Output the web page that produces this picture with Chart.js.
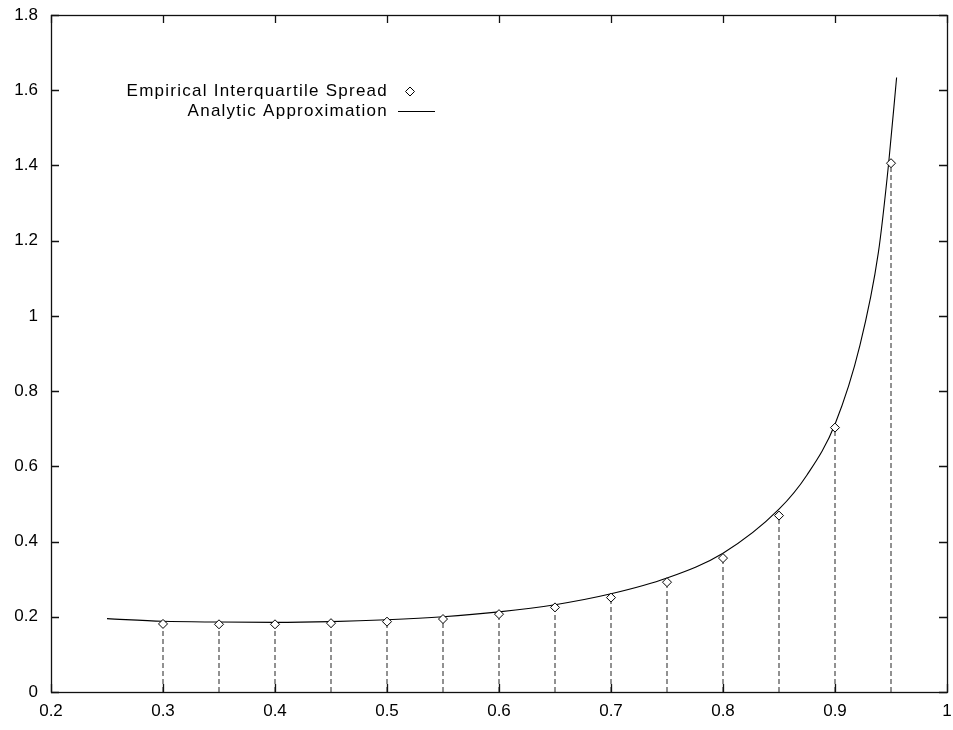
<!DOCTYPE html>
<html><head><meta charset="utf-8">
<script src="https://cdn.jsdelivr.net/npm/chart.js@4/dist/chart.umd.min.js"></script>
<style>html,body{margin:0;padding:0;background:#fff}#wrap{width:953px;height:730px;position:relative}</style>
</head><body><div id="wrap"><canvas id="c"></canvas></div>
<script>
const seriesNames = ['Empirical Interquartile Spread', 'Analytic Approximation'];
const empiricalX = [0.30, 0.35, 0.40, 0.45, 0.50, 0.55, 0.60, 0.65, 0.70, 0.75, 0.80, 0.85, 0.90, 0.95];
const empiricalY = [0.181, 0.180, 0.180, 0.183, 0.187, 0.194, 0.207, 0.225, 0.251, 0.292, 0.356, 0.469, 0.703, 1.406];
const analyticX = [0.25, 0.30, 0.35, 0.40, 0.45, 0.50, 0.55, 0.60, 0.65, 0.70, 0.75, 0.80, 0.85, 0.875, 0.90, 0.9223, 0.9387, 0.9479, 0.955];
const analyticY = [0.195, 0.188, 0.186, 0.185, 0.187, 0.192, 0.200, 0.213, 0.232, 0.261, 0.303, 0.369, 0.486, 0.577, 0.712, 0.922, 1.168, 1.406, 1.634];
const xTickValues = [0.2, 0.3, 0.4, 0.5, 0.6, 0.7, 0.8, 0.9, 1.0];
const xTickLabels = ['0.2', '0.3', '0.4', '0.5', '0.6', '0.7', '0.8', '0.9', '1'];
const yTickValues = [0, 0.2, 0.4, 0.6, 0.8, 1.0, 1.2, 1.4, 1.6, 1.8];
const yTickLabels = ['0', '0.2', '0.4', '0.6', '0.8', '1', '1.2', '1.4', '1.6', '1.8'];

const empiricalPts = empiricalX.map((x, i) => ({x: x, y: empiricalY[i]}));
const analyticPts = analyticX.map((x, i) => ({x: x, y: analyticY[i]}));
const impulsePts = [];
empiricalX.forEach((x, i) => {
  impulsePts.push({x: x, y: 0}, {x: x, y: empiricalY[i]}, {x: x, y: null});
});

Chart.defaults.font.family = "'Liberation Sans', Arial, Helvetica, sans-serif";
Chart.defaults.font.size = 17;
Chart.defaults.color = '#000';

const TICK = 8;
const noPad = s => { s.paddingTop = 0; s.paddingBottom = 0; s.paddingLeft = 0; s.paddingRight = 0; };
const framePlugin = {
  id: 'frame',
  afterDatasetsDraw(chart) {
    const {ctx, chartArea: a, scales} = chart;
    ctx.save();
    ctx.strokeStyle = '#111';
    ctx.lineWidth = 1.3;
    ctx.beginPath();
    xTickValues.forEach(v => {
      const px = Math.round(scales.x.getPixelForValue(v)) + 0.5;
      ctx.moveTo(px, a.bottom); ctx.lineTo(px, a.bottom - TICK);
      ctx.moveTo(px, a.top); ctx.lineTo(px, a.top + TICK);
    });
    yTickValues.forEach(v => {
      const py = Math.round(scales.y.getPixelForValue(v)) + 0.5;
      ctx.moveTo(a.left, py); ctx.lineTo(a.left + TICK, py);
      ctx.moveTo(a.right, py); ctx.lineTo(a.right - TICK, py);
    });
    ctx.stroke();
    ctx.strokeRect(Math.round(a.left) + 0.5, Math.round(a.top) + 0.5, Math.round(a.right - a.left), Math.round(a.bottom - a.top));
    // legend (gnuplot style: text then sample)
    ctx.fillStyle = '#000';
    ctx.font = "17px 'Liberation Sans', Arial, sans-serif";
    try { ctx.letterSpacing = '1.25px'; } catch (e) {}
    ctx.textAlign = 'right';
    ctx.textBaseline = 'middle';
    const textRight = 388;
    const rows = [91, 111];
    ctx.fillText(chart.data.datasets[0].label, textRight, rows[0]);
    ctx.fillText(chart.data.datasets[1].label, textRight, rows[1]);
    try { ctx.letterSpacing = '0px'; } catch (e) {}
    const ds0 = chart.data.datasets[0];
    ctx.fillStyle = '#fff';
    ctx.strokeStyle = ds0.pointBorderColor;
    ctx.lineWidth = 1;
    ctx.beginPath();
    ctx.moveTo(410, rows[0] - 4); ctx.lineTo(414.5, rows[0] + 0.5); ctx.lineTo(410, rows[0] + 5); ctx.lineTo(405.5, rows[0] + 0.5); ctx.closePath();
    ctx.fill(); ctx.stroke();
    ctx.strokeStyle = chart.data.datasets[1].borderColor;
    ctx.beginPath();
    ctx.moveTo(398, rows[1] + 0.5); ctx.lineTo(435, rows[1] + 0.5);
    ctx.stroke();
    ctx.restore();
  }
};

new Chart(document.getElementById('c'), {
  type: 'line',
  data: {
    datasets: [
      {
        label: seriesNames[0],
        data: empiricalPts,
        showLine: false,
        pointStyle: 'rectRot',
        pointRadius: 4.5,
        pointHoverRadius: 4.5,
        pointBackgroundColor: '#fff',
        pointBorderColor: '#000',
        pointBorderWidth: 1,
        order: 0
      },
      {
        label: seriesNames[1],
        data: analyticPts,
        borderColor: '#000',
        borderWidth: 1.1,
        pointRadius: 0,
        cubicInterpolationMode: 'monotone',
        fill: false,
        order: 1
      },
      {
        label: 'impulses',
        data: impulsePts,
        borderColor: '#6e6e6e',
        borderWidth: 1.5,
        borderDash: [5, 3],
        pointRadius: 0,
        spanGaps: false,
        fill: false,
        order: 2
      }
    ]
  },
  options: {
    responsive: true,
    maintainAspectRatio: false,
    animation: false,
    events: [],
    layout: {padding: {top: 15, right: 6, left: 0, bottom: 0}},
    plugins: {legend: {display: false}, tooltip: {enabled: false}, title: {display: false}},
    scales: {
      x: {
        type: 'linear', min: 0.2, max: 1,
        grid: {display: false, drawTicks: false},
        border: {display: false},
        afterBuildTicks: s => { s.ticks = xTickValues.map(v => ({value: v})); },
        afterFit: s => { s.height = 38; noPad(s); },
        ticks: {padding: 9, maxRotation: 0, autoSkip: false, callback: (v, i) => xTickLabels[i]}
      },
      y: {
        type: 'linear', min: 0, max: 1.8,
        grid: {display: false, drawTicks: false},
        border: {display: false},
        afterBuildTicks: s => { s.ticks = yTickValues.map(v => ({value: v})); },
        afterFit: s => { s.width = 51; noPad(s); },
        ticks: {padding: 13, autoSkip: false, callback: (v, i) => yTickLabels[i]}
      }
    }
  },
  plugins: [framePlugin]
});
</script>
</body></html>
